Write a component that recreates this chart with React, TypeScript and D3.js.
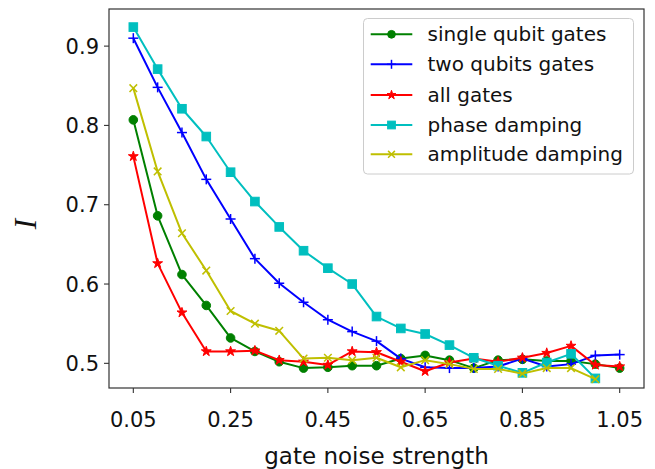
import React from "react";
import * as d3 from "d3";

const xTicks = [0.05, 0.25, 0.45, 0.65, 0.85, 1.05];
const yTicks = [0.5, 0.6, 0.7, 0.8, 0.9];

const xLong = [0.05, 0.1, 0.15, 0.2, 0.25, 0.3, 0.35, 0.4, 0.45, 0.5, 0.55, 0.6, 0.65, 0.7, 0.75, 0.8, 0.85, 0.9, 0.95, 1.0, 1.05];
const xShort = [0.05, 0.1, 0.15, 0.2, 0.25, 0.3, 0.35, 0.4, 0.45, 0.5, 0.55, 0.6, 0.65, 0.7, 0.75, 0.8, 0.85, 0.9, 0.95, 1.0];

const singleQubit = [0.807, 0.686, 0.612, 0.573, 0.532, 0.515, 0.502, 0.494, 0.495, 0.497, 0.497, 0.506, 0.510, 0.504, 0.494, 0.504, 0.505, 0.503, 0.503, 0.499, 0.494];
const twoQubits = [0.910, 0.848, 0.791, 0.732, 0.682, 0.632, 0.601, 0.577, 0.555, 0.540, 0.528, 0.506, 0.495, 0.494, 0.494, 0.496, 0.506, 0.496, 0.499, 0.510, 0.511];
const allGates = [0.761, 0.626, 0.564, 0.515, 0.515, 0.516, 0.504, 0.502, 0.498, 0.515, 0.514, 0.502, 0.490, 0.501, 0.506, 0.502, 0.507, 0.513, 0.522, 0.498, 0.496];
const phaseDamping = [0.924, 0.871, 0.821, 0.786, 0.741, 0.704, 0.672, 0.642, 0.620, 0.600, 0.559, 0.544, 0.537, 0.523, 0.507, 0.497, 0.488, 0.501, 0.512, 0.481];
const amplitudeDamping = [0.847, 0.742, 0.664, 0.617, 0.566, 0.550, 0.541, 0.506, 0.507, 0.504, 0.507, 0.495, 0.504, 0.499, 0.493, 0.493, 0.487, 0.494, 0.494, 0.480];

const seriesNames = ["single qubit gates", "two qubits gates", "all gates", "phase damping", "amplitude damping"];
const seriesColors = ["#008000", "#0000ff", "#ff0000", "#00bfbf", "#bfbf00"];
const seriesMarkers = ["circle", "plus", "star", "square", "x"];
const seriesX = [xLong, xLong, xLong, xShort, xShort];
const seriesY = [singleQubit, twoQubits, allGates, phaseDamping, amplitudeDamping];

const W = 655;
const H = 469;
const L = 109, R = 644, T = 9, B = 388;

function Marker({ type, x, y, color, s = 1 }: { type: string; x: number; y: number; color: string; s?: number }) {
  if (type === "circle") return <circle cx={x} cy={y} r={4.3 * s} fill={color} stroke={color} strokeWidth={1} />;
  if (type === "square") {
    const h = 4.3 * s;
    return <rect x={x - h} y={y - h} width={2 * h} height={2 * h} fill={color} stroke={color} strokeWidth={1} />;
  }
  if (type === "plus") {
    const h = 5 * s;
    return (
      <g stroke={color} strokeWidth={1.5}>
        <line x1={x - h} y1={y} x2={x + h} y2={y} />
        <line x1={x} y1={y - h} x2={x} y2={y + h} />
      </g>
    );
  }
  if (type === "x") {
    const h = 3.8 * s;
    return (
      <g stroke={color} strokeWidth={1.5}>
        <line x1={x - h} y1={y - h} x2={x + h} y2={y + h} />
        <line x1={x - h} y1={y + h} x2={x + h} y2={y - h} />
      </g>
    );
  }
  // star
  const ro = 5.2 * s, ri = ro * 0.38;
  const pts: string[] = [];
  for (let i = 0; i < 10; i++) {
    const r = i % 2 === 0 ? ro : ri;
    const a = -Math.PI / 2 + (i * Math.PI) / 5;
    pts.push(`${x + r * Math.cos(a)},${y + r * Math.sin(a)}`);
  }
  return <polygon points={pts.join(" ")} fill={color} stroke={color} strokeWidth={1} strokeLinejoin="miter" />;
}

export default function App() {
  const x = d3.scaleLinear().domain([0, 1.1]).range([L, R]);
  const y = d3.scaleLinear().domain([0.4689, 0.9468]).range([B, T]);
  const line = d3.line<[number, number]>().x((d) => x(d[0])).y((d) => y(d[1]));

  const legendRowY = [34.3, 64.3, 95, 125, 154.3];

  return (
    <div style={{ position: "absolute", left: 0, top: 0 }}>
      <svg width={W} height={H} style={{ display: "block", fontFamily: "DejaVu Sans" }}>
        <rect x={0} y={0} width={W} height={H} fill="#fff" />
        {seriesNames.map((name, si) => {
          const pts = seriesX[si].map((xv, i) => [xv, seriesY[si][i]] as [number, number]);
          return (
            <g key={name}>
              <path d={line(pts) || ""} fill="none" stroke={seriesColors[si]} strokeWidth={2} strokeLinejoin="round" />
              {pts.map((p, i) => (
                <Marker key={i} type={seriesMarkers[si]} x={x(p[0])} y={y(p[1])} color={seriesColors[si]} />
              ))}
            </g>
          );
        })}
        {/* frame */}
        <rect x={L} y={T} width={R - L} height={B - T} fill="none" stroke="#333" strokeWidth={1.2} />
        {/* x ticks */}
        {xTicks.map((t) => (
          <g key={t}>
            <line x1={x(t)} x2={x(t)} y1={B} y2={B + 5} stroke="#333" strokeWidth={1.1} />
            <text x={x(t)} y={427} textAnchor="middle" fontSize={21} fill="#111">
              {t.toFixed(2)}
            </text>
          </g>
        ))}
        {/* y ticks */}
        {yTicks.map((t) => (
          <g key={t}>
            <line x1={L - 5} x2={L} y1={y(t)} y2={y(t)} stroke="#333" strokeWidth={1.1} />
            <text x={99} y={y(t) + 7.6} textAnchor="end" fontSize={21} fill="#111">
              {t.toFixed(1)}
            </text>
          </g>
        ))}
        {/* axis labels */}
        <text x={(L + R) / 2} y={464} textAnchor="middle" fontSize={23} fill="#111">
          gate noise strength
        </text>
        <text
          transform={`translate(35.5,224) rotate(-90)`}
          textAnchor="middle"
          fontSize={31}
          fontFamily="Liberation Serif"
          fontStyle="italic"
          fill="#111"
        >
          I
        </text>
        {/* legend */}
        <rect x={363.5} y={18.5} width={270} height={155.5} rx={4} ry={4} fill="#fff" fillOpacity={0.8} stroke="#ccc" strokeWidth={1} />
        {seriesNames.map((name, si) => (
          <g key={name}>
            <line x1={370.7} x2={412.3} y1={legendRowY[si]} y2={legendRowY[si]} stroke={seriesColors[si]} strokeWidth={2} />
            <Marker type={seriesMarkers[si]} x={391.5} y={legendRowY[si]} color={seriesColors[si]} s={0.9} />
            <text x={427.5} y={legendRowY[si] + 7} fontSize={20} fill="#111">
              {name}
            </text>
          </g>
        ))}
      </svg>
    </div>
  );
}
